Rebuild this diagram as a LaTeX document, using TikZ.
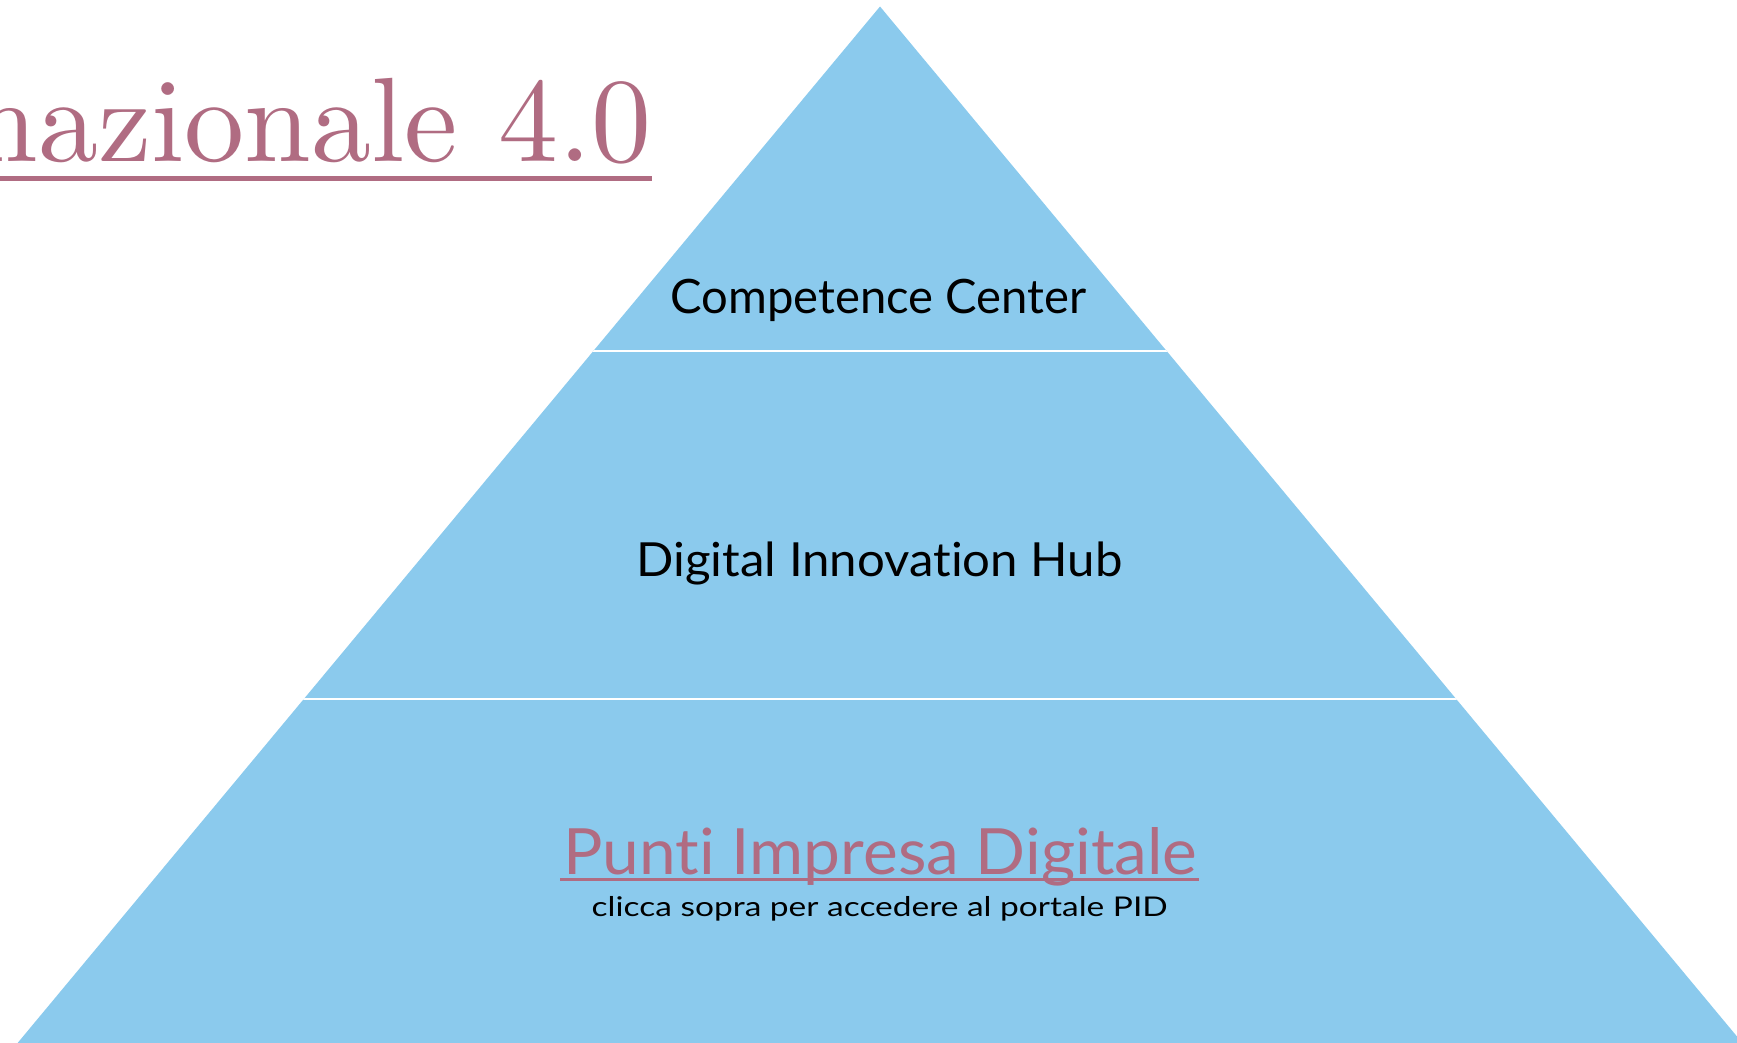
\documentclass[tikz,border=0pt]{standalone}
\usepackage{fontspec}
\usepackage{graphicx}
\newfontfamily\pyrfont{Lato}[Ligatures=NoCommon]
\newfontfamily\titlefont{lmroman10-regular.otf}
\definecolor{pyrblue}{RGB}{139,202,237}
\definecolor{mauve}{RGB}{176,108,130}
\begin{document}
\begin{tikzpicture}[x=0.5pt,y=-0.5pt,
  lbl/.style={inner sep=0pt, anchor=base},
  sepline/.style={white, line width=1pt}]
\useasboundingbox (0,0) rectangle (1737,1043);
\clip (0,0) rectangle (1737,1043);
% pyramid
\fill[pyrblue] (880,6.5) -- (1742.4,1043) -- (17.6,1043) -- cycle;
\begin{scope}
  \clip (880,6.5) -- (1742.4,1043) -- (17.6,1043) -- cycle;
  \draw[sepline] (0,351) -- (1737,351);
  \draw[sepline] (0,698.5) -- (1737,698.5);
\end{scope}
% title
\node[inner sep=0pt, anchor=base east, text=mauve,
      font=\titlefont\fontsize{60}{72}\selectfont] (title) at (652,162) {nazionale 4.0};
\coordinate (tul) at (0,178.5);
\draw[mauve, line width=2.3pt] (tul) -- (tul -| title.east);
% labels
\node[lbl, font=\pyrfont\fontsize{23.7}{28}\selectfont] (cc) at (878.7,314)
  {\resizebox{208pt}{\height}{Competence Center}};
\node[lbl, font=\pyrfont\fontsize{23.5}{28}\selectfont] (dih) at (879.7,576.7)
  {\resizebox{243pt}{\height}{Digital Innovation Hub}};
\node[lbl, text=mauve, font=\pyrfont\fontsize{31.9}{38}\selectfont] (pid) at (880.4,874)
  {\resizebox{317pt}{\height}{Punti Impresa Digitale}};
\coordinate (pul) at (560,879.5);
\coordinate (pur) at (1198.6,879.5);
\draw[mauve, line width=1.5pt] (pul) -- (pur);
\node[lbl, font=\pyrfont\fontsize{13.6}{16}\selectfont] (sub) at (879.7,916.7)
  {\resizebox{288pt}{\height}{clicca sopra per accedere al portale PID}};
\end{tikzpicture}
\end{document}
